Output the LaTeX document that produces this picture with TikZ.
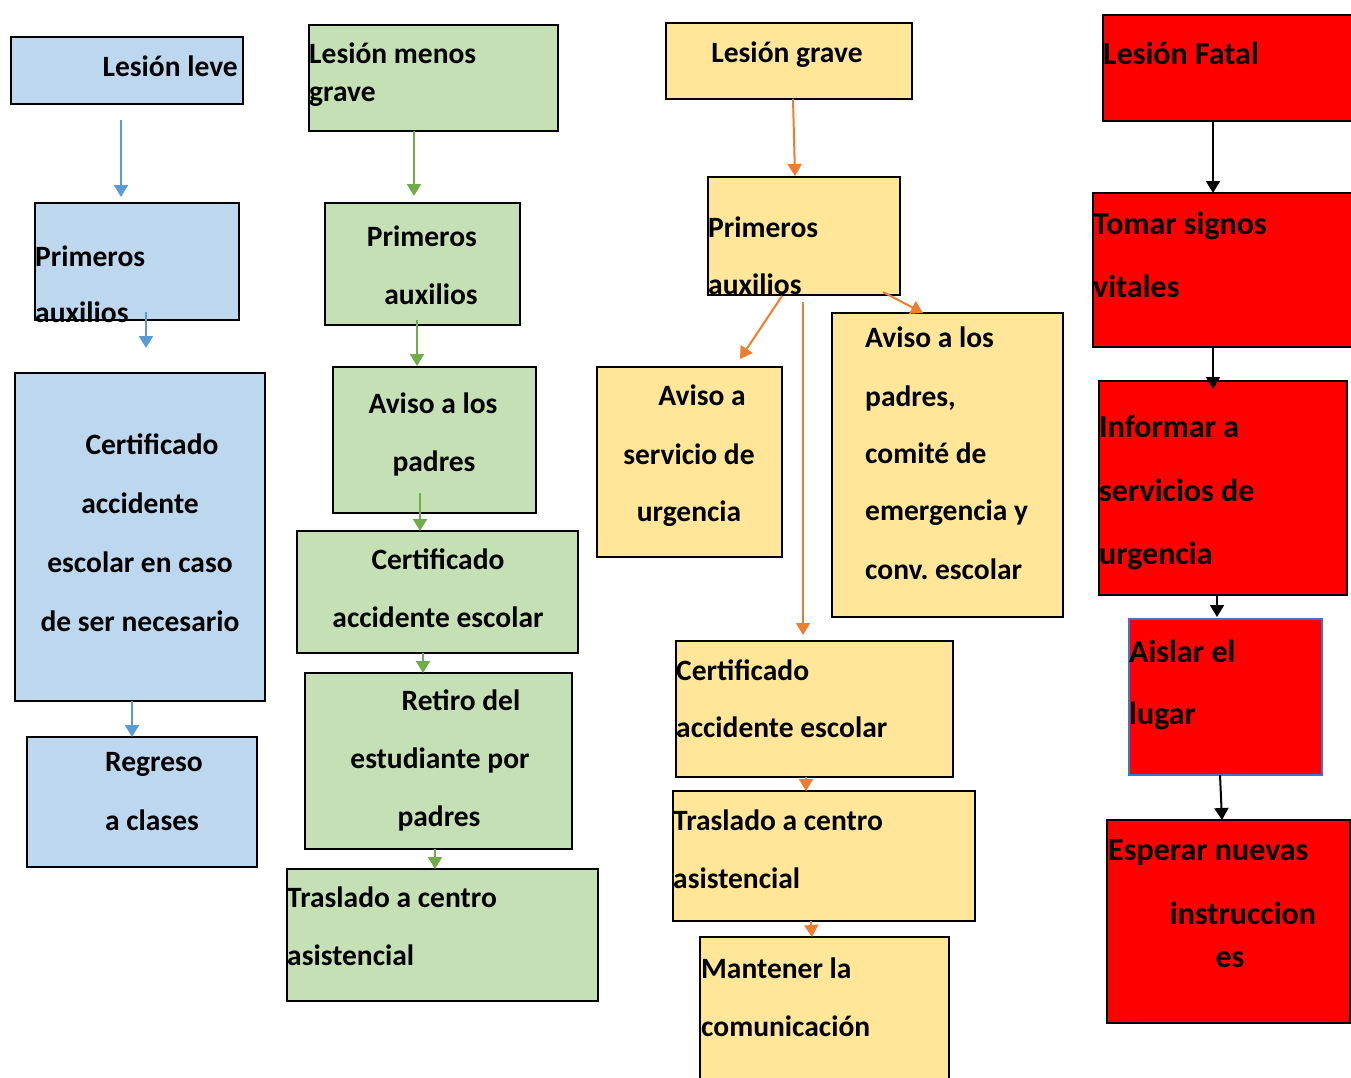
\documentclass[tikz,border=0pt]{standalone}
\usepackage{fontspec}
\setmainfont{Carlito}
\usepackage{xcolor}
\usetikzlibrary{arrows.meta}

\definecolor{azulclaro}{RGB}{189,215,238}
\definecolor{verdeclaro}{RGB}{197,224,180}
\definecolor{amarillo}{RGB}{255,230,153}
\definecolor{rojo}{RGB}{255,0,0}
\definecolor{azulflecha}{RGB}{91,155,213}
\definecolor{verdeflecha}{RGB}{112,173,71}
\definecolor{naranja}{RGB}{237,125,49}
\definecolor{bordeazul}{RGB}{68,114,196}

\tikzset{
  caja/.style={draw=black, line width=2pt, anchor=north west, inner sep=0pt, outer sep=0pt},
  txt/.style={inner sep=0pt, font=\bfseries\fontsize{29.5}{35}\selectfont},
  txtrojo/.style={inner sep=0pt, font=\bfseries\fontsize{32}{38}\selectfont},
  flecha/.style={-{Triangle[width=14pt,length=12pt]}, line width=2pt},
}

\begin{document}
\begin{tikzpicture}[x=1pt,y=-1pt]
\useasboundingbox (0,0) rectangle (1351,1077);
\clip (0,0) rectangle (1351,1077);

% Lesion leve
\node[caja,fill=azulclaro,minimum width=232,minimum height=67] (b1) at (11,37) {};
\node[caja,fill=azulclaro,minimum width=204,minimum height=117] (b2) at (35,203) {};
\node[caja,fill=azulclaro,minimum width=250,minimum height=328] (b3) at (15,373) {};
\node[caja,fill=azulclaro,minimum width=230,minimum height=130] (b4) at (27,737) {};

% Lesion menos grave
\node[caja,fill=verdeclaro,minimum width=249,minimum height=106] (g1) at (309,25) {};
\node[caja,fill=verdeclaro,minimum width=195,minimum height=122] (g2) at (325,203) {};
\node[caja,fill=verdeclaro,minimum width=203,minimum height=146] (g3) at (333,367) {};
\node[caja,fill=verdeclaro,minimum width=281,minimum height=122] (g4) at (297,531) {};
\node[caja,fill=verdeclaro,minimum width=267,minimum height=176] (g5) at (305,673) {};
\node[caja,fill=verdeclaro,minimum width=311,minimum height=132] (g6) at (287,869) {};

% Lesion grave
\node[caja,fill=amarillo,minimum width=246,minimum height=76] (o1) at (666,23) {};
\node[caja,fill=amarillo,minimum width=192,minimum height=118] (o2) at (708,177) {};
\node[caja,fill=amarillo,minimum width=185,minimum height=190] (o3) at (597,367) {};
\node[caja,fill=amarillo,minimum width=231,minimum height=304] (o4) at (832,313) {};
\node[caja,fill=amarillo,minimum width=277,minimum height=136] (o5) at (676,641) {};
\node[caja,fill=amarillo,minimum width=302,minimum height=130] (o6) at (673,791) {};
\node[caja,fill=amarillo,minimum width=249,minimum height=160] (o7) at (700,937) {};

% Lesion fatal
\node[caja,fill=rojo,minimum width=280,minimum height=106] (r1) at (1103,15) {};
\node[caja,fill=rojo,minimum width=290,minimum height=154] (r2) at (1093,193) {};
\node[caja,fill=rojo,minimum width=248,minimum height=214] (r3) at (1099,381) {};
\node[caja,fill=rojo,draw=bordeazul,line width=1.5pt,minimum width=193,minimum height=156] (r4) at (1129,619) {};
\node[caja,fill=rojo,minimum width=243,minimum height=203] (r5) at (1107,820) {};

% flechas
\draw[flecha,azulflecha] ([xshift=110pt,yshift=-16pt]b1.south west)--([xshift=86pt,yshift=6pt]b2.north west);
\draw[flecha,azulflecha] ([xshift=111pt,yshift=8pt]b2.south west)--([xshift=131pt,yshift=25pt]b3.north west);
\draw[flecha,azulflecha] ([xshift=117pt]b3.south west)--([xshift=105pt]b4.north west);

\draw[flecha,verdeflecha] ([xshift=105pt]g1.south west)--([xshift=89pt,yshift=7pt]g2.north west);
\draw[flecha,verdeflecha] ([xshift=92pt,yshift=5pt]g2.south west)--([xshift=84pt,yshift=1pt]g3.north west);
\draw[flecha,verdeflecha] ([xshift=87pt,yshift=20pt]g3.south west)--([xshift=123pt]g4.north west);
\draw[flecha,verdeflecha] ([xshift=126pt]g4.south west)--([xshift=118pt]g5.north west);
\draw[flecha,verdeflecha] ([xshift=130pt]g5.south west)--([xshift=148pt]g6.north west);

\draw[flecha,naranja] ([xshift=127pt]o1.south west)--([xshift=87pt,yshift=1pt]o2.north west);
\draw[flecha,naranja] ([xshift=74pt,yshift=-1pt]o2.south west)--([xshift=143pt,yshift=8pt]o3.north west);
\draw[flecha,naranja,line width=1.5pt] ([xshift=95pt,yshift=-7pt]o2.south west)--([xshift=127pt,yshift=6pt]o5.north west);
\draw[flecha,naranja] ([xshift=175pt,yshift=3pt]o2.south west)--([xshift=91pt]o4.north west);
\draw[flecha,naranja] ([xshift=130pt]o5.south west)--([xshift=133pt]o6.north west);
\draw[flecha,naranja] ([xshift=138pt]o6.south west)--([xshift=112pt]o7.north west);

\draw[flecha,black] ([xshift=110pt]r1.south west)--([xshift=120pt]r2.north west);
\draw[flecha,black] ([xshift=120pt]r2.south west)--([xshift=114pt,yshift=-8pt]r3.north west);
\draw[flecha,black] ([xshift=118pt]r3.south west)--([xshift=88pt,yshift=2pt]r4.north west);
\draw[flecha,black] ([xshift=91pt]r4.south west)--([xshift=115pt]r5.north west);

% textos
\node[txt,anchor=base east] (b1t) at (238,76) {Lesión leve};
\node[txt,anchor=base west] (b2t1) at (35,266) {Primeros};
\node[txt,anchor=base west] (b2t2) at (35,322) {auxilios};
\node[txt,anchor=base] (b3t1) at (152,454) {Certificado};
\node[txt,anchor=base] (b3t2) at (140,513) {accidente};
\node[txt,anchor=base] (b3t3) at (140,572) {escolar en caso};
\node[txt,anchor=base] (b3t4) at (140,631) {de ser necesario};
\node[txt,anchor=base] (b4t1) at (154,771) {Regreso};
\node[txt,anchor=base] (b4t2) at (152,830) {a clases};

\node[txt,anchor=base west] (g1t1) at (309,63) {Lesión menos};
\node[txt,anchor=base west] (g1t2) at (309,101) {grave};
\node[txt,anchor=base] (g2t1) at (422,246) {Primeros};
\node[txt,anchor=base] (g2t2) at (431,304) {auxilios};
\node[txt,anchor=base] (g3t1) at (433,413) {Aviso a los};
\node[txt,anchor=base] (g3t2) at (434,471) {padres};
\node[txt,anchor=base] (g4t1) at (438,569) {Certificado};
\node[txt,anchor=base] (g4t2) at (438,627) {accidente escolar};
\node[txt,anchor=base] (g5t1) at (461,710) {Retiro del};
\node[txt,anchor=base] (g5t2) at (440,768) {estudiante por};
\node[txt,anchor=base] (g5t3) at (439,826) {padres};
\node[txt,anchor=base west] (g6t1) at (287,907) {Traslado a centro};
\node[txt,anchor=base west] (g6t2) at (287,965) {asistencial};

\node[txt,anchor=base] (o1t) at (787,62) {Lesión grave};
\node[txt,anchor=base west] (o2t1) at (708,237) {Primeros};
\node[txt,anchor=base west] (o2t2) at (708,294) {auxilios};
\node[txt,anchor=base] (o3t1) at (702,405) {Aviso a};
\node[txt,anchor=base] (o3t2) at (689,464) {servicio de};
\node[txt,anchor=base] (o3t3) at (689,521) {urgencia};
\node[txt,anchor=base west] (o4t1) at (865,347) {Aviso a los};
\node[txt,anchor=base west] (o4t2) at (865,406) {padres,};
\node[txt,anchor=base west] (o4t3) at (865,463) {comité de};
\node[txt,anchor=base west] (o4t4) at (865,520) {emergencia y};
\node[txt,anchor=base west] (o4t5) at (865,579) {conv.\ escolar};
\node[txt,anchor=base west] (o5t1) at (676,680) {Certificado};
\node[txt,anchor=base west] (o5t2) at (676,737) {accidente escolar};
\node[txt,anchor=base west] (o6t1) at (673,830) {Traslado a centro};
\node[txt,anchor=base west] (o6t2) at (673,888) {asistencial};
\node[txt,anchor=base west] (o7t1) at (701,978) {Mantener la};
\node[txt,anchor=base west] (o7t2) at (701,1036) {comunicación};

\node[txtrojo,anchor=base west] (r1t) at (1103,64) {Lesión Fatal};
\node[txtrojo,anchor=base west] (r2t1) at (1093,234) {Tomar signos};
\node[txtrojo,anchor=base west] (r2t2) at (1093,297) {vitales};
\node[txtrojo,anchor=base west] (r3t1) at (1099,437) {Informar a};
\node[txtrojo,anchor=base west] (r3t2) at (1099,501) {servicios de};
\node[txtrojo,anchor=base west] (r3t3) at (1099,564) {urgencia};
\node[txtrojo,anchor=base west] (r4t1) at (1129,662) {Aislar el};
\node[txtrojo,anchor=base west] (r4t2) at (1129,724) {lugar};
\node[txtrojo,anchor=base west] (r5t1) at (1108,860) {Esperar nuevas};
\node[txtrojo,anchor=base] (r5t2) at (1243,924) {instruccion};
\node[txtrojo,anchor=base] (r5t3) at (1230,967) {es};
\end{tikzpicture}
\end{document}
